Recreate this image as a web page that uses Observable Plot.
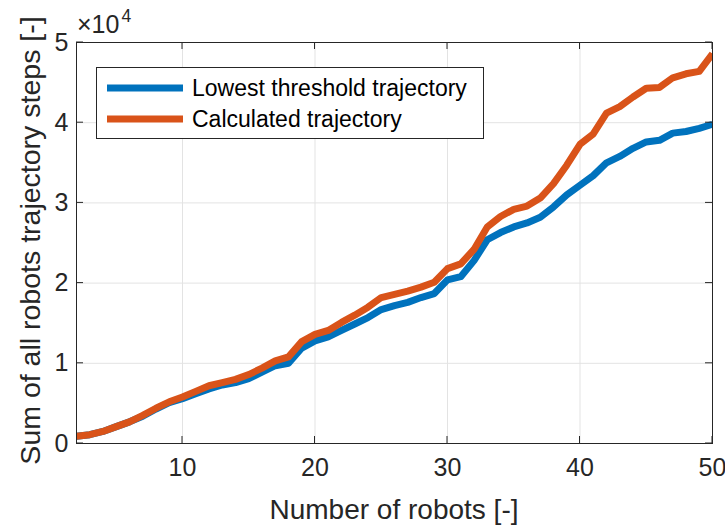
<!DOCTYPE html>
<html><head><meta charset="utf-8">
<script src="https://cdn.jsdelivr.net/npm/d3@7"></script>
<script src="https://cdn.jsdelivr.net/npm/@observablehq/plot@0.6"></script>
<style>
body{margin:0;background:#fff}
#chart{position:relative;width:725px;height:526px}
</style>
</head><body><div id="chart"></div>
<script>
const robots = [2,3,4,5,6,7,8,9,10,11,12,13,14,15,16,17,18,19,20,21,22,23,24,25,26,27,28,29,30,31,32,33,34,35,36,37,38,39,40,41,42,43,44,45,46,47,48,49,50];
const lowestThreshold = [900,1100,1500,2100,2700,3400,4300,5100,5600,6200,6800,7300,7600,8100,8900,9700,10000,11900,12800,13300,14100,14900,15700,16700,17200,17600,18200,18700,20400,20800,22800,25400,26300,27000,27500,28200,29500,31000,32200,33400,35000,35800,36800,37600,37800,38700,38900,39300,39800];
const calculated = [900,1100,1500,2100,2700,3500,4400,5200,5800,6500,7200,7600,8000,8600,9400,10300,10800,12700,13600,14100,15100,16000,17000,18200,18600,19000,19500,20100,21800,22400,24200,27000,28300,29200,29600,30600,32400,34700,37300,38600,41200,42000,43200,44300,44400,45600,46100,46400,48600];
const seriesNames = ["Lowest threshold trajectory", "Calculated trajectory"];
const seriesColors = ["#0072BD", "#D95319"];
const xTicks = [10, 20, 30, 40, 50];
const yTicks = [0, 10000, 20000, 30000, 40000, 50000];
const yTickLabels = ["0", "1", "2", "3", "4", "5"];
const xLabel = "Number of robots [-]";
const yLabel = "Sum of all robots trajectory steps [-]";

const rows = robots.flatMap((r, i) => [
  {robots: r, steps: lowestThreshold[i], series: seriesNames[0]},
  {robots: r, steps: calculated[i], series: seriesNames[1]}
]);

const W = 725, H = 526, ML = 76, MR = 13, MT = 42, MB = 83;
const FONT = "Liberation Sans, Arial, Helvetica, sans-serif";
const INK = "#262626";

const plot = Plot.plot({
  width: W, height: H,
  marginLeft: ML, marginRight: MR, marginTop: MT, marginBottom: MB,
  style: {fontFamily: FONT, fontSize: "25px", color: INK, background: "#fff", overflow: "visible"},
  x: {domain: [2, 50]},
  y: {domain: [0, 50000]},
  color: {domain: seriesNames, range: seriesColors},
  marks: [
    Plot.gridX(xTicks, {stroke: "#e3e3e3", strokeOpacity: 1, strokeWidth: 1}),
    Plot.gridY(yTicks, {stroke: "#e3e3e3", strokeOpacity: 1, strokeWidth: 1}),
    Plot.line(rows, {x: "robots", y: "steps", z: "series", stroke: "series", strokeWidth: 7, strokeLinejoin: "round", strokeLinecap: "butt", clip: true}),
    Plot.frame({stroke: INK, strokeWidth: 1}),
    Plot.axisX(xTicks, {tickSize: 0, tickPadding: 15, label: null, fill: INK}),
    Plot.axisY(yTicks, {tickSize: 0, tickPadding: 8, label: null, fill: INK, tickFormat: d => yTickLabels[yTicks.indexOf(d)]})
  ]
});

document.getElementById("chart").appendChild(plot);

const svg = d3.select(plot);
const sx = plot.scale("x"), sy = plot.scale("y");
const x0 = sx.apply(2), x1 = sx.apply(50), y0 = sy.apply(0), y1 = sy.apply(50000);
const TL = 7;
const g = svg.append("g").attr("stroke", INK).attr("stroke-width", 1);
xTicks.forEach(t => {
  const px = sx.apply(t);
  g.append("line").attr("x1", px).attr("x2", px).attr("y1", y0).attr("y2", y0 - TL);
  g.append("line").attr("x1", px).attr("x2", px).attr("y1", y1).attr("y2", y1 + TL);
});
yTicks.forEach(t => {
  const py = sy.apply(t);
  g.append("line").attr("x1", x0).attr("x2", x0 + TL).attr("y1", py).attr("y2", py);
  g.append("line").attr("x1", x1).attr("x2", x1 - TL).attr("y1", py).attr("y2", py);
});

// axis titles
svg.append("text").attr("x", (x0 + x1) / 2).attr("y", 519)
  .attr("text-anchor", "middle").attr("font-family", FONT).attr("font-size", 28).attr("fill", INK)
  .text(xLabel);
svg.append("text").attr("transform", `translate(40,${(y0 + y1) / 2 - 2}) rotate(-90)`)
  .attr("text-anchor", "middle").attr("font-family", FONT).attr("font-size", 28.5).attr("fill", INK)
  .text(yLabel);

// exponent
const ex = svg.append("text").attr("x", x0 + 1).attr("y", 33).attr("text-anchor", "start")
  .attr("font-family", FONT).attr("font-size", 25).attr("fill", INK);
ex.append("tspan").text("\u00D710");
ex.append("tspan").attr("dy", -11).attr("dx", 2).attr("font-size", 17.5).text("4");

// legend
const lg = svg.append("g");
lg.append("rect").attr("x", 96.5).attr("y", 67.5).attr("width", 387).attr("height", 71)
  .attr("fill", "#fff").attr("stroke", INK).attr("stroke-width", 1);
seriesNames.forEach((name, i) => {
  const yy = 88 + i * 31;
  lg.append("line").attr("x1", 107).attr("x2", 183).attr("y1", yy).attr("y2", yy)
    .attr("stroke", seriesColors[i]).attr("stroke-width", 7);
  lg.append("text").attr("x", 192).attr("y", yy).attr("dy", "0.36em").attr("text-anchor", "start")
    .attr("font-family", FONT).attr("font-size", 23).attr("fill", "#000").text(name);
});
</script>
</body></html>
